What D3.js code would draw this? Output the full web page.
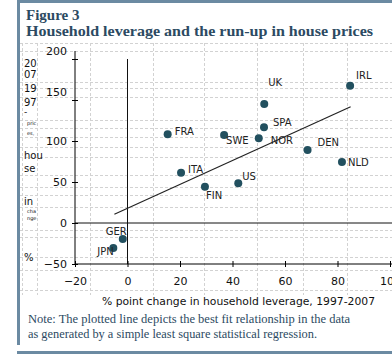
<!DOCTYPE html>
<html><head><meta charset="utf-8">
<script src="https://cdn.jsdelivr.net/npm/d3@7"></script>
<style>html,body{margin:0;padding:0;background:#fff;overflow:hidden}</style>
</head><body>
<svg id="c" width="392" height="357"></svg>
<script>
// ---- data ----
const countries = ["IRL","UK","SPA","NOR","SWE","DEN","NLD","US","ITA","FRA","FIN","GER","JPN"];
const leverageChange = [84.8, 52.1, 52.0, 50.0, 36.8, 68.6, 81.7, 42.2, 20.4, 15.3, 29.5, -1.8, -5.4];
const housePriceChange = [167.4, 145.0, 116.7, 103.3, 107.3, 89.0, 74.4, 48.4, 61.4, 108.1, 44.3, -19.5, -30.5];
const fitX = [-5, 85];
const fitY = [10.7, 141.8];
const xTicks = [-20, 0, 20, 40, 60, 80, 100];
const yTicks = [-50, 0, 50, 100, 150, 200];
const title1 = "Figure 3";
const title2 = "Household leverage and the run-up in house prices";
const xTitle = "% point change in household leverage, 1997-2007";
const note1 = "Note: The plotted line depicts the best fit relationship in the data";
const note2 = "as generated by a simple least square statistical regression.";
const yTitleParts = ["20","07","19","97","-","pric","es,","hou","se","in","cha","nge","%"];

// label placement offsets (px) relative to point
const labelDx = [6, 4, 9, 12, 2, 10, 6, 4, 7, 7, 1, -17, -16];
const labelDy = [-10, -22, -5, 2, 5, -8, 1, -7, -3, -3, 9, -7, 3];

const svg = d3.select("#c");
const frame = "#6b8aa2", ink = "#2c4a62", dot = "#22505f";

// spreadsheet-like dashed grid
const gridCols = [22, 37, 90, 153, 204, 257, 303, 347];
const gridRows = [43, 51, 82, 88, 97, 120, 128, 137, 147, 157, 175, 187, 195, 207, 230, 237, 257, 270, 290];
const g0 = svg.append("g").attr("stroke", "#d2d2d2").attr("stroke-dasharray", "3,2").attr("stroke-width", 1);
g0.selectAll("line.v").data(gridCols).join("line").attr("x1", d => d + .5).attr("x2", d => d + .5).attr("y1", 43).attr("y2", 295);
g0.selectAll("line.h").data(gridRows).join("line").attr("y1", d => d + .5).attr("y2", d => d + .5).attr("x1", 20).attr("x2", 392);

// frame bars
svg.append("rect").attr("x", 17).attr("y", 0).attr("width", 375).attr("height", 3).attr("fill", frame);
svg.append("rect").attr("x", 17).attr("y", 0).attr("width", 3).attr("height", 345).attr("fill", frame);
svg.append("rect").attr("x", 17).attr("y", 351).attr("width", 375).attr("height", 3).attr("fill", frame);

// title
svg.append("text").attr("x", 26).attr("y", 20).text(title1)
  .attr("font-family", "Liberation Serif, DejaVu Serif, serif").attr("font-weight", "bold").attr("font-size", 15).attr("fill", ink);
svg.append("text").attr("x", 26).attr("y", 36).text(title2)
  .attr("font-family", "Liberation Serif, DejaVu Serif, serif").attr("font-weight", "bold").attr("font-size", 15).attr("fill", ink)
  .attr("textLength", 347).attr("lengthAdjust", "spacingAndGlyphs");

// scales
const x = d3.scaleLinear().domain([-20, 100]).range([75, 390]);
const y = d3.scaleLinear().domain([-50, 200]).range([264, 59]);

const sans = "DejaVu Sans, Verdana, sans-serif";

// zero lines
svg.append("line").attr("x1", x(0)).attr("x2", x(0)).attr("y1", y(200)).attr("y2", y(-50)).attr("stroke", "#111");
svg.append("line").attr("x1", x(-20)).attr("x2", 392).attr("y1", y(0)).attr("y2", y(0)).attr("stroke", "#111");

// axes
const ax = svg.append("g").attr("transform", `translate(0,${y(-50)})`)
  .call(d3.axisBottom(x).tickValues(xTicks).tickSizeInner(3).tickSizeOuter(0).tickPadding(10));
ax.select(".domain").attr("d", `M${x(-20)},0H392`);
ax.selectAll(".tick line").attr("y1", -3).attr("y2", 3);
ax.selectAll("text").attr("font-family", sans).attr("font-size", 11).attr("fill", "#111");

const ay = svg.append("g").attr("transform", `translate(${x(-20)},0)`)
  .call(d3.axisLeft(y).tickValues(yTicks).tickSizeInner(3).tickSizeOuter(0).tickPadding(5));
ay.select(".domain").attr("d", `M0,51V${y(-50)}`);
ay.selectAll(".tick line").attr("x1", -3).attr("x2", 3);
ay.selectAll("text").attr("font-family", sans).attr("font-size", 11).attr("fill", "#111");
ay.selectAll(".tick").filter(d => d >= 150).select("text").attr("dy", "-0.45em");

// fit line
svg.append("path").attr("d", d3.line().x((d, i) => x(fitX[i])).y((d, i) => y(fitY[i]))(fitX))
  .attr("stroke", "#222").attr("stroke-width", 1.2).attr("fill", "none");

// points
svg.append("g").selectAll("circle").data(countries).join("circle")
  .attr("cx", (d, i) => x(leverageChange[i])).attr("cy", (d, i) => y(housePriceChange[i]))
  .attr("r", 4).attr("fill", dot);
svg.append("g").selectAll("text").data(countries).join("text")
  .attr("x", (d, i) => x(leverageChange[i]) + labelDx[i])
  .attr("y", (d, i) => y(housePriceChange[i]) + labelDy[i])
  .attr("dy", "0.35em").text(d => d)
  .attr("font-family", sans).attr("font-size", 10).attr("fill", "#222");

// x title
svg.append("text").attr("x", 102).attr("y", 305).text(xTitle)
  .attr("font-family", sans).attr("font-size", 10.5).attr("fill", "#111")
  .attr("textLength", 273).attr("lengthAdjust", "spacingAndGlyphs");

// broken y title fragments
const yPartY = [63, 74, 88, 102, 112, 123, 133, 155, 168, 201, 211, 218, 257];
const yPartSize = [10, 10, 10, 10, 9, 5, 5, 10, 10, 10, 5, 5, 10];
svg.append("g").selectAll("text").data(yTitleParts).join("text")
  .attr("x", (d, i) => yPartSize[i] < 8 ? 27 : 24)
  .attr("y", (d, i) => yPartY[i]).attr("dy", "0.35em").text(d => d)
  .attr("font-family", sans).attr("font-size", (d, i) => yPartSize[i]).attr("fill", "#111");

// note
const serif = "Liberation Serif, DejaVu Serif, serif";
svg.append("text").attr("x", 28).attr("y", 323).text(note1)
  .attr("font-family", serif).attr("font-size", 12).attr("fill", ink)
  .attr("textLength", 322).attr("lengthAdjust", "spacingAndGlyphs");
svg.append("text").attr("x", 28).attr("y", 338).text(note2)
  .attr("font-family", serif).attr("font-size", 12).attr("fill", ink)
  .attr("textLength", 289).attr("lengthAdjust", "spacingAndGlyphs");
</script>
</body></html>
